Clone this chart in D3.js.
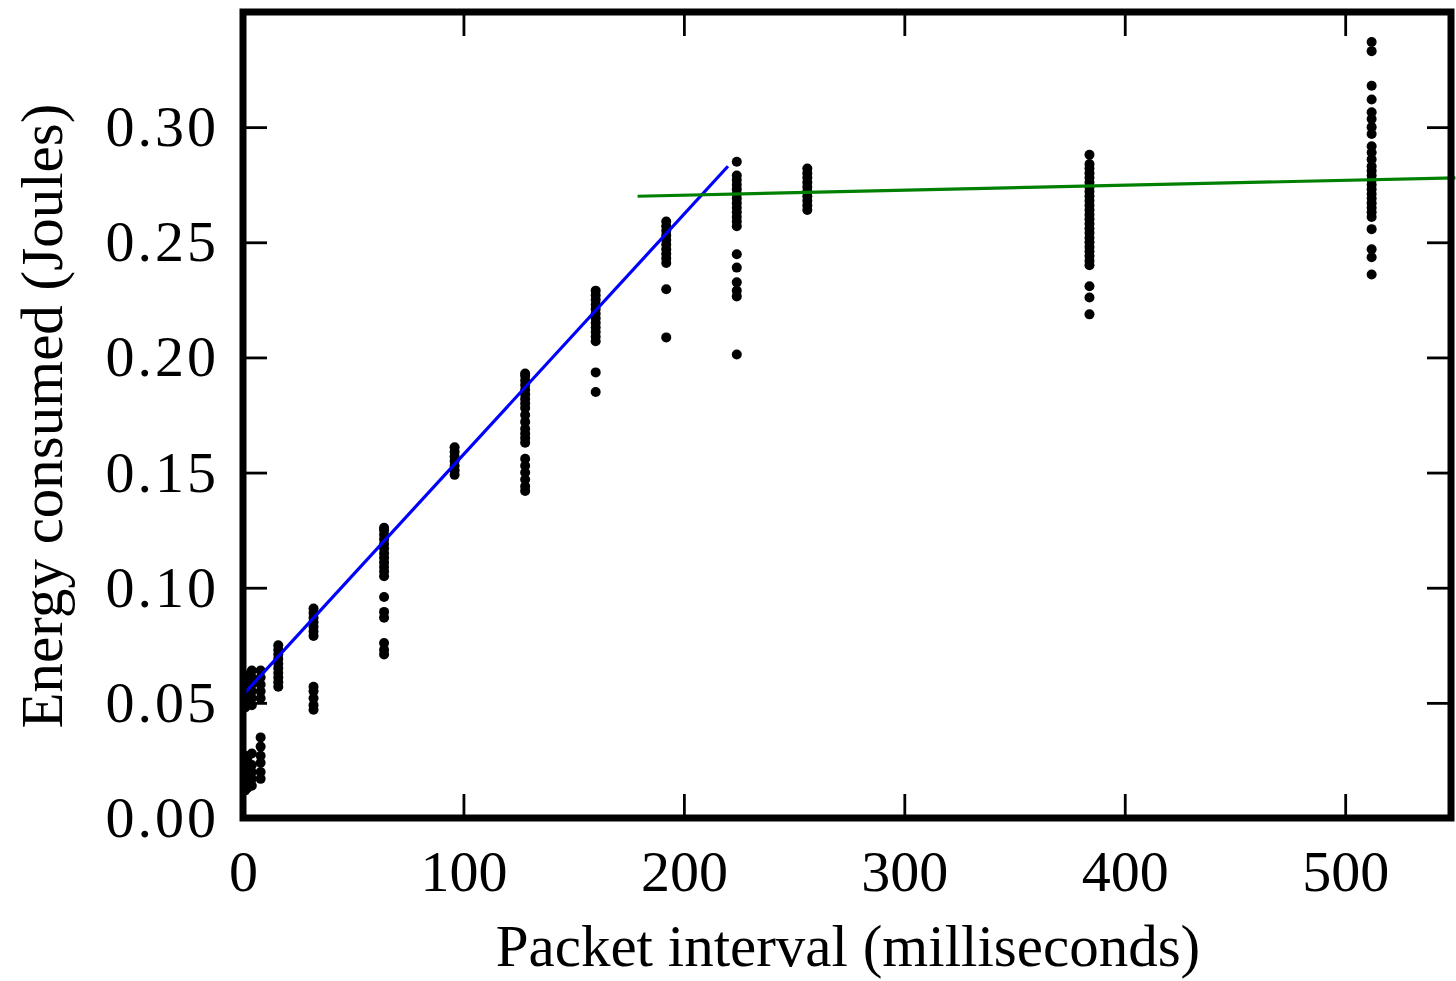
<!DOCTYPE html>
<html>
<head>
<meta charset="utf-8">
<script src="https://cdn.jsdelivr.net/npm/d3@7"></script>
<style>
  body { margin: 0; background: #fff; }
  text { font-family: "Liberation Serif", "DejaVu Serif", serif; fill: #000; }
</style>
</head>
<body>
<svg id="chart" width="1456" height="981"></svg>
<script>
// packet interval (ms) for each measured cluster
let intervals = [1, 2, 4, 8, 16, 32, 64, 96, 128, 160, 192, 224, 256, 384, 512];

// energy readings (Joules) per interval, same order as above
let energies = [
  [0.012, 0.015, 0.018, 0.021, 0.024, 0.027, 0.048, 0.051, 0.054, 0.057, 0.060],
  [0.013, 0.016, 0.019, 0.022, 0.026, 0.050, 0.053, 0.056, 0.059, 0.062],
  [0.014, 0.017, 0.020, 0.023, 0.028, 0.049, 0.052, 0.055, 0.058, 0.061, 0.064],
  [0.017, 0.020, 0.024, 0.027, 0.031, 0.035, 0.052, 0.055, 0.058, 0.061, 0.064],
  [0.057, 0.059, 0.061, 0.063, 0.065, 0.067, 0.069, 0.071, 0.073, 0.075],
  [0.047, 0.049, 0.052, 0.055, 0.057, 0.079, 0.081, 0.083, 0.085, 0.087, 0.089, 0.091],
  [0.071, 0.073, 0.076, 0.087, 0.0895, 0.096, 0.105, 0.107, 0.109, 0.111, 0.113, 0.115,
   0.117, 0.119, 0.121, 0.123, 0.125, 0.126],
  [0.149, 0.151, 0.153, 0.155, 0.157, 0.159, 0.161],
  [0.142, 0.144, 0.147, 0.150, 0.153, 0.156, 0.163, 0.165, 0.167, 0.169, 0.172, 0.175,
   0.178, 0.180, 0.182, 0.184, 0.186, 0.188, 0.190, 0.192, 0.193],
  [0.185, 0.1935, 0.207, 0.209, 0.211, 0.213, 0.215, 0.217, 0.219, 0.221, 0.223, 0.225,
   0.227, 0.229],
  [0.2087, 0.2296, 0.241, 0.243, 0.245, 0.247, 0.249, 0.251, 0.253, 0.255, 0.257, 0.259],
  [0.2013, 0.2265, 0.229, 0.2326, 0.239, 0.2448, 0.257, 0.259, 0.261, 0.263, 0.265, 0.267,
   0.269, 0.271, 0.273, 0.275, 0.277, 0.279, 0.285],
  [0.264, 0.266, 0.268, 0.270, 0.272, 0.274, 0.276, 0.278, 0.280, 0.282],
  [0.2187, 0.226, 0.2309, 0.240, 0.242, 0.244, 0.246, 0.248, 0.250, 0.252, 0.254, 0.256,
   0.258, 0.260, 0.262, 0.264, 0.266, 0.268, 0.270, 0.272, 0.274, 0.276, 0.278, 0.280,
   0.282, 0.284, 0.288],
  [0.236, 0.2435, 0.247, 0.2557, 0.261, 0.263, 0.265, 0.267, 0.269, 0.271, 0.273, 0.275,
   0.277, 0.279, 0.281, 0.283, 0.286, 0.289, 0.2917, 0.297, 0.300, 0.3035, 0.3065, 0.312,
   0.318, 0.333, 0.337]
];

// fitted lines: [interval, energy] end points
let linearFit = [[0, 0.0535], [220, 0.283]];
let flatFit = [[179, 0.2700], [550, 0.2780]];

let xTicks = [0, 100, 200, 300, 400, 500];
let yTicks = [0.00, 0.05, 0.10, 0.15, 0.20, 0.25, 0.30];

let margin = { left: 243, top: 12, right: 1451, bottom: 818 };

let svg = d3.select("#chart");

let x = d3.scaleLinear()
  .domain([0, 548])
  .range([margin.left, margin.right]);
let y = d3.scaleLinear()
  .domain([0, 0.35])
  .range([margin.bottom, margin.top]);

let points = [];
intervals.forEach((iv, i) => {
  energies[i].forEach(e => points.push({ a: iv, b: e }));
});

// scatter points
svg.append("g")
  .selectAll("circle")
  .data(points)
  .enter()
  .append("circle")
  .attr("cx", d => x(d.a))
  .attr("cy", d => y(d.b))
  .attr("r", 5)
  .attr("fill", "#000");

// fit lines
let line = d3.line()
  .x(d => x(d[0]))
  .y(d => y(d[1]));

svg.append("path")
  .attr("d", line(linearFit))
  .attr("fill", "none")
  .attr("stroke", "#0000ff")
  .attr("stroke-width", 3.2);

svg.append("path")
  .attr("d", line(flatFit))
  .attr("fill", "none")
  .attr("stroke", "#008000")
  .attr("stroke-width", 3.2);

// axes, ticks pointing inward on all four sides
let tickLen = 24;
let axes = [
  d3.axisBottom(x).tickValues(xTicks).tickSize(-tickLen).tickPadding(tickLen + 8).tickFormat(d3.format("d")),
  d3.axisTop(x).tickValues(xTicks).tickSize(-tickLen).tickFormat(""),
  d3.axisLeft(y).tickValues(yTicks).tickSize(-tickLen).tickPadding(24).tickFormat(d3.format(".2f")),
  d3.axisRight(y).tickValues(yTicks).tickSize(-tickLen).tickFormat("")
];
let offsets = [
  [0, margin.bottom], [0, margin.top], [margin.left, 0], [margin.right, 0]
];

axes.forEach((ax, i) => {
  let g = svg.append("g")
    .attr("transform", "translate(" + offsets[i][0] + "," + offsets[i][1] + ")")
    .call(ax);
  g.select(".domain").remove();
  g.selectAll(".tick line").attr("stroke", "#000").attr("stroke-width", 2.8);
  g.selectAll(".tick text")
    .style("font-family", "'Liberation Serif', serif")
    .style("font-size", "58px");
});

// y tick labels are a little wider in the original
d3.selectAll("g.tick text")
  .filter(function() { return this.textContent.indexOf(".") >= 0; })
  .style("letter-spacing", "3px");

// frame
svg.append("rect")
  .attr("x", margin.left)
  .attr("y", margin.top)
  .attr("width", margin.right - margin.left)
  .attr("height", margin.bottom - margin.top)
  .attr("fill", "none")
  .attr("stroke", "#000")
  .attr("stroke-width", 7);

// axis labels
svg.append("text")
  .attr("x", 848)
  .attr("y", 966)
  .attr("text-anchor", "middle")
  .style("font-size", "59px")
  .text("Packet interval (milliseconds)");

svg.append("text")
  .attr("transform", "translate(62,416) rotate(-90)")
  .attr("text-anchor", "middle")
  .style("font-size", "59px")
  .text("Energy consumed (Joules)");
</script>
</body>
</html>
